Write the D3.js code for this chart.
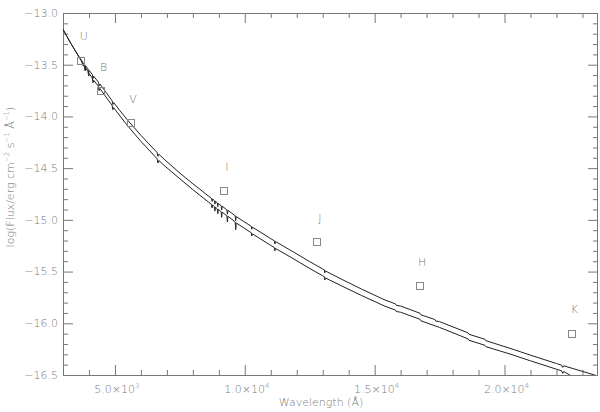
<!DOCTYPE html>
<html>
<head>
<meta charset="utf-8">
<script src="https://cdn.jsdelivr.net/npm/d3@7"></script>
<style>
body { margin: 0; background: #fff; }
text { font-family: "DejaVu Sans", sans-serif; fill: #777; font-weight: 200; }
</style>
</head>
<body>
<script>
var width = 600,
    height = 412;

var margin = {top: 13, right: 2, bottom: 37, left: 63};

// photometric bands
var bands = ["U", "B", "V", "I", "J", "H", "K"];
var bandWave = [3681, 4450, 5580, 9190, 12780, 16715, 22572];
var bandFlux = [-13.457, -13.75, -14.06, -14.72, -15.214, -15.638, -16.094];

// model spectrum 1 (upper) : [wavelength, log flux]
var upperSpec = [
    [3000, -13.158], [3300, -13.293], [3600, -13.416], [3700, -13.455],
    [3760, -13.474], [3780, -13.505], [3800, -13.488], [3840, -13.502],
    [3855, -13.545], [3870, -13.510], [3960, -13.540], [3990, -13.580],
    [4010, -13.555], [4130, -13.595], [4155, -13.635], [4180, -13.610],
    [4360, -13.668], [4390, -13.705], [4420, -13.686], [4890, -13.848],
    [4920, -13.885], [4950, -13.866], [5195, -13.945], [5500, -14.039],
    [6000, -14.183], [6620, -14.348], [6655, -14.385], [6690, -14.365],
    [6927, -14.421], [7500, -14.548], [8000, -14.651], [8275, -14.705],
    [8600, -14.770], [8720, -14.793], [8740, -14.822], [8760, -14.798],
    [8830, -14.814], [8850, -14.848], [8870, -14.820], [8940, -14.835],
    [8960, -14.872], [8980, -14.840], [9090, -14.863], [9110, -14.905],
    [9130, -14.868], [9310, -14.903], [9330, -14.945], [9350, -14.908],
    [9630, -14.960], [9650, -15.008], [9670, -14.968], [10000, -15.022],
    [10250, -15.063], [10270, -15.090], [10290, -15.070], [11000, -15.182],
    [11140, -15.203], [11160, -15.232], [11180, -15.210], [11741, -15.291],
    [12500, -15.404], [13000, -15.475], [13060, -15.483], [13080, -15.513],
    [13100, -15.494], [13781, -15.581], [14500, -15.670], [15398, -15.775],
    [15800, -15.812], [15830, -15.826], [16000, -15.833], [16746, -15.903],
    [16780, -15.918], [17320, -15.964], [17350, -15.978], [17500, -15.984],
    [18600, -16.093], [18630, -16.106], [19250, -16.155], [19280, -16.168],
    [20212, -16.242], [21000, -16.308], [22000, -16.389], [22200, -16.405],
    [22240, -16.427], [22280, -16.411], [23000, -16.465], [23600, -16.510]
];

// model spectrum 2 (lower)
var lowerSpec = [
    [3000, -13.158], [3300, -13.293], [3600, -13.418], [3700, -13.462],
    [3780, -13.510], [3800, -13.500], [3855, -13.560], [3870, -13.530],
    [3960, -13.565], [3990, -13.610], [4010, -13.585], [4130, -13.630],
    [4155, -13.675], [4180, -13.650], [4360, -13.708], [4390, -13.750],
    [4420, -13.730], [4890, -13.893], [4920, -13.935], [4950, -13.915],
    [5195, -13.996], [5500, -14.094], [6000, -14.241], [6620, -14.408],
    [6655, -14.450], [6690, -14.426], [6927, -14.481], [7500, -14.603],
    [8000, -14.708], [8275, -14.763], [8600, -14.828], [8720, -14.851],
    [8740, -14.885], [8760, -14.856], [8830, -14.872], [8850, -14.915],
    [8870, -14.877], [8940, -14.893], [8960, -14.940], [8980, -14.898],
    [9090, -14.921], [9110, -14.975], [9130, -14.925], [9310, -14.961],
    [9330, -15.020], [9350, -14.965], [9630, -15.020], [9650, -15.095],
    [9670, -15.030], [10000, -15.084], [10250, -15.125], [10270, -15.155],
    [10290, -15.135], [11000, -15.247], [11140, -15.268], [11160, -15.300],
    [11180, -15.276], [11741, -15.357], [12500, -15.470], [13000, -15.541],
    [13060, -15.549], [13080, -15.582], [13100, -15.561], [13781, -15.645],
    [14500, -15.732], [15398, -15.835], [15800, -15.872], [15830, -15.886],
    [16000, -15.893], [16746, -15.961], [16780, -15.976], [17500, -16.040],
    [18600, -16.151], [18630, -16.164], [19250, -16.213], [19280, -16.226],
    [20212, -16.297], [21000, -16.363], [22000, -16.444], [22200, -16.460],
    [22240, -16.485], [22280, -16.466], [22586, -16.510], [23000, -16.525]
];

// ticks
var xMajor = [5000, 10000, 15000, 20000];
var xMajorMant = ["5.0", "1.0", "1.5", "2.0"];
var xMajorExp = ["3", "4", "4", "4"];
var xMinor = [4000, 6000, 7000, 8000, 9000, 11000, 12000, 13000, 14000,
              16000, 17000, 18000, 19000, 21000, 22000, 23000];
var yMajor = [-13.0, -13.5, -14.0, -14.5, -15.0, -15.5, -16.0, -16.5];

var x = d3.scaleLinear().domain([3000, 23600]).range([margin.left, width - margin.right]),
    y = d3.scaleLinear().domain([-16.5, -13.0]).range([height - margin.bottom, margin.top]);

var svg = d3.select("body").append("svg")
    .attr("width", width)
    .attr("height", height);

svg.append("clipPath")
    .attr("id", "plot-clip")
    .append("rect")
    .attr("x", margin.left)
    .attr("y", margin.top)
    .attr("width", width - margin.left - margin.right)
    .attr("height", height - margin.top - margin.bottom);

var yMinor = d3.range(-165, -129).map(function(d) { return d / 10; })
    .filter(function(d) { return Math.abs(d * 2 - Math.round(d * 2)) > 0.01; });

var axisColor = "#777";

function styleAxis(g) {
    g.select(".domain").remove();
    g.selectAll("line").attr("stroke", axisColor);
    g.selectAll("text").remove();
}

// bottom + top
svg.append("g").attr("transform", "translate(0," + y(-16.5) + ")")
    .call(d3.axisBottom(x).tickValues(xMajor).tickSize(-10)).call(styleAxis);
svg.append("g").attr("transform", "translate(0," + y(-16.5) + ")")
    .call(d3.axisBottom(x).tickValues(xMinor).tickSize(-5)).call(styleAxis);
svg.append("g").attr("transform", "translate(0," + y(-13.0) + ")")
    .call(d3.axisTop(x).tickValues(xMajor).tickSize(-10)).call(styleAxis);
svg.append("g").attr("transform", "translate(0," + y(-13.0) + ")")
    .call(d3.axisTop(x).tickValues(xMinor).tickSize(-5)).call(styleAxis);

// left + right
svg.append("g").attr("transform", "translate(" + x(3000) + ",0)")
    .call(d3.axisLeft(y).tickValues(yMajor).tickSize(-10)).call(styleAxis);
svg.append("g").attr("transform", "translate(" + x(3000) + ",0)")
    .call(d3.axisLeft(y).tickValues(yMinor).tickSize(-5)).call(styleAxis);
svg.append("g").attr("transform", "translate(" + x(23600) + ",0)")
    .call(d3.axisRight(y).tickValues(yMajor).tickSize(-10)).call(styleAxis);
svg.append("g").attr("transform", "translate(" + x(23600) + ",0)")
    .call(d3.axisRight(y).tickValues(yMinor).tickSize(-5)).call(styleAxis);

// frame
svg.append("rect")
    .attr("x", x(3000) + 0.5)
    .attr("y", y(-13.0) + 0.5)
    .attr("width", x(23600) - x(3000) - 1)
    .attr("height", y(-16.5) - y(-13.0))
    .attr("fill", "none")
    .attr("stroke", axisColor);

// tick labels
svg.append("g").selectAll("text")
    .data(yMajor)
    .join("text")
    .attr("x", margin.left - 5)
    .attr("y", function(d) { return y(d); })
    .attr("dy", "0.35em")
    .attr("text-anchor", "end")
    .attr("font-size", 11)
    .text(function(d) { return "\u2212" + Math.abs(d).toFixed(1); });

var xLab = svg.append("g").selectAll("text")
    .data(xMajor)
    .join("text")
    .attr("x", function(d) { return x(d) + 2; })
    .attr("y", 393)
    .attr("text-anchor", "middle")
    .attr("font-size", 11);
xLab.append("tspan").text(function(d, i) { return xMajorMant[i] + "\u00d710"; });
xLab.append("tspan").attr("dy", -5).attr("font-size", 7)
    .text(function(d, i) { return xMajorExp[i]; });

// axis titles
svg.append("text")
    .attr("x", 321)
    .attr("y", 406)
    .attr("text-anchor", "middle")
    .attr("font-size", 11)
    .text("Wavelength (\u00c5)");

var yTitle = svg.append("text")
    .attr("transform", "translate(14,177) rotate(-90)")
    .attr("text-anchor", "middle")
    .attr("font-size", 11);
yTitle.append("tspan").text("log(Flux/erg cm");
yTitle.append("tspan").attr("dy", -5).attr("font-size", 7).text("\u22122");
yTitle.append("tspan").attr("dy", 5).text(" s");
yTitle.append("tspan").attr("dy", -5).attr("font-size", 7).text("\u22121");
yTitle.append("tspan").attr("dy", 5).text(" \u00c5");
yTitle.append("tspan").attr("dy", -5).attr("font-size", 7).text("\u22121");
yTitle.append("tspan").attr("dy", 5).text(")");

// spectra
var line = d3.line()
    .x(function(d) { return x(d[0]); })
    .y(function(d) { return y(d[1]); });

var gCurves = svg.append("g").attr("clip-path", "url(#plot-clip)");
[upperSpec, lowerSpec].forEach(function(spec) {
    gCurves.append("path")
        .datum(spec)
        .attr("d", line)
        .attr("fill", "none")
        .attr("stroke", "#222")
        .attr("stroke-width", 1);
});

// photometry
var sq = 7;
svg.append("g").selectAll("rect")
    .data(bandWave)
    .join("rect")
    .attr("x", function(d) { return Math.round(x(d) - sq / 2) + 0.5; })
    .attr("y", function(d, i) { return Math.round(y(bandFlux[i]) - sq / 2) + 0.5; })
    .attr("width", sq)
    .attr("height", sq)
    .attr("fill", "none")
    .attr("stroke", "#888");

svg.append("g").selectAll("text")
    .data(bands)
    .join("text")
    .attr("x", function(d, i) { return x(bandWave[i]) + 3; })
    .attr("y", function(d, i) { return y(bandFlux[i]) - 20; })
    .attr("text-anchor", "middle")
    .attr("font-size", 11)
    .attr("fill", "#888")
    .text(function(d) { return d; });
</script>
</body>
</html>
